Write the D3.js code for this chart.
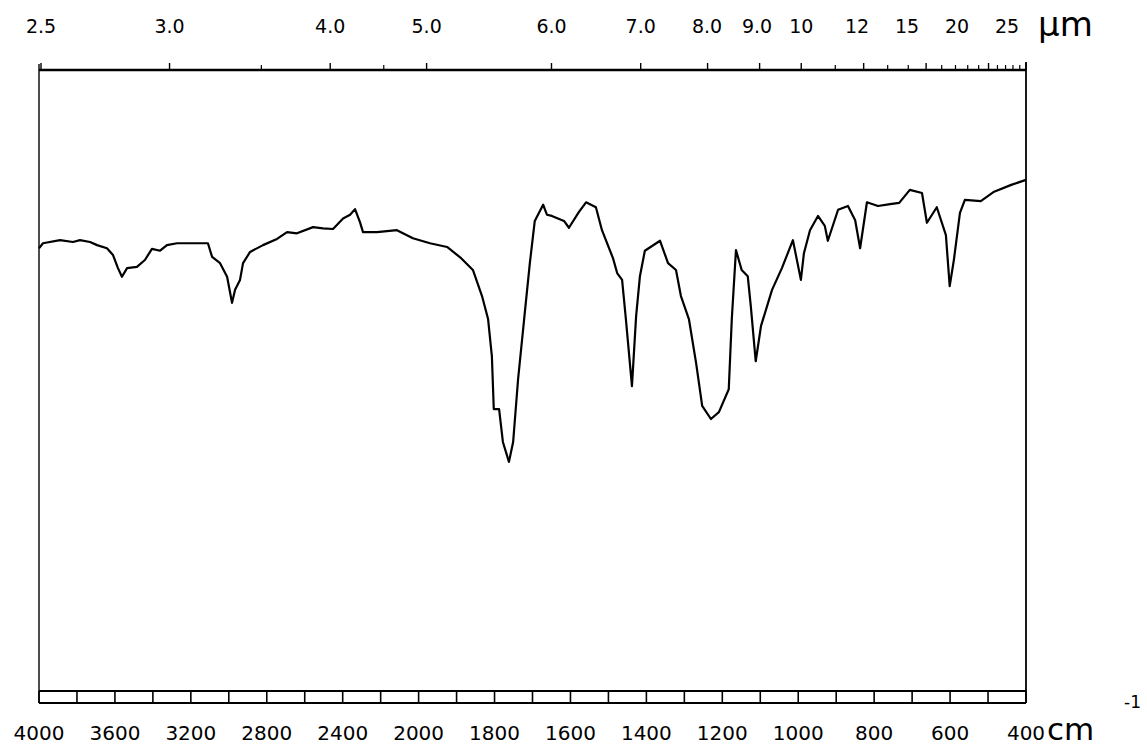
<!DOCTYPE html>
<meta charset="utf-8">
<style>
body { margin: 0; background: #fff; }
svg text { font-family: "DejaVu Sans", sans-serif; fill: #000; }
.spec { fill: none; stroke: #000; stroke-width: 2.2; stroke-linejoin: round; }
.frame { stroke: #000; fill: none; }
</style>
<body>
<script src="https://d3js.org/d3.v7.min.js"></script>
<script>

// spectrum (cm-1, %T)
var wavenumber = [4000, 3979, 3889, 3821, 3784, 3731, 3694, 3642, 3610, 3584, 3563, 3536, 3484, 3442, 3405, 3362, 3326, 3273, 3220, 3168, 3110,
  3088, 3046, 3009, 2994, 2983, 2967, 2941, 2925, 2888, 2820, 2746, 2693, 2641, 2556, 2504, 2451, 2398, 2361, 2335, 2309, 2293, 2219, 2114,
  2030, 1970, 1925, 1888, 1857, 1833, 1817, 1807, 1802, 1788, 1778, 1762, 1751, 1738, 1722, 1707, 1694, 1672, 1662, 1649, 1617, 1604, 1578,
  1559, 1533, 1517, 1488, 1477, 1464, 1454, 1438, 1427, 1417, 1404, 1364, 1343, 1322, 1309, 1288, 1269, 1253, 1230, 1209, 1183, 1175, 1164,
  1149, 1133, 1125, 1112, 1098, 1069, 1043, 1014, 993, 985, 969, 948, 930, 922, 895, 869, 850, 837, 819, 790, 758, 734, 706, 674, 661, 635,
  611, 601, 590, 574, 561, 519, 484, 439, 400];
var transmittance = [71.3, 72.1, 72.6, 72.3, 72.6, 72.3, 71.8, 71.3, 70.2, 68.1, 66.7, 68.1, 68.3, 69.4, 71.2, 70.9, 71.8, 72.1, 72.1, 72.1, 72.1,
  69.9, 68.9, 66.7, 64.3, 62.5, 64.6, 66.2, 68.9, 70.7, 71.8, 72.8, 73.9, 73.7, 74.7, 74.5, 74.4, 76.1, 76.7, 77.6, 75.5, 73.9, 73.9, 74.2,
  72.9, 72.1, 71.5, 69.7, 67.8, 63.6, 59.9, 53.9, 45.4, 45.4, 40.1, 36.9, 40.1, 50.2, 59.9, 68.9, 75.7, 78.3, 76.7, 76.5, 75.7, 74.6, 77.1,
  78.7, 77.9, 74.2, 69.7, 67.3, 66.2, 59.9, 49.1, 60.4, 66.8, 70.9, 72.5, 68.9, 67.8, 63.6, 59.9, 52.8, 45.9, 43.8, 44.9, 48.6, 59.9, 71.0,
  67.8, 66.8, 62.0, 53.1, 58.8, 64.6, 68.1, 72.6, 66.2, 70.5, 74.2, 76.5, 74.9, 72.5, 77.5, 78.1, 75.8, 71.3, 78.7, 78.1, 78.4, 78.6, 80.7, 80.2, 75.4, 77.9,
  73.4, 65.2, 69.4, 77.0, 79.1, 78.9, 80.4, 81.5, 82.3];

// axis labels
var cmLabels = [4000, 3600, 3200, 2800, 2400, 2000, 1800, 1600, 1400, 1200, 1000, 800, 600, 400];
var umLabels = ["2.5", "3.0", "4.0", "5.0", "6.0", "7.0", "8.0", "9.0", "10", "12", "15", "20", "25"];
var umMinor = [3.5, 4.5, 11, 13, 14, 16, 17, 18, 19, 21, 22, 23, 24];

(function() {

var width = 1147, height = 746;
var x0 = 39, x1 = 1026, yTop = 70, yBot = 691, yStrip = 703;
var xMid = x0 + (x1 - x0) * 10 / 26;

var svg = d3.select("body").append("svg")
    .attr("width", width)
    .attr("height", height);

// grating change at 2000 cm-1: scale doubles
var x = d3.scaleLinear()
    .domain([4000, 2000, 400])
    .range([x0, xMid, x1]);

// the printed micrometre scale sits a little off the wavenumber one
var xTop = d3.scaleLinear()
    .domain([4000, 2000, 400])
    .range([x0 + 2, xMid + 8, x1]);

var y = d3.scaleLinear()
    .domain([0, 100])
    .range([yBot, yTop]);

function hline(xa, xb, yy, sw) {
  svg.append("line").attr("class", "frame")
      .attr("x1", xa).attr("x2", xb).attr("y1", yy).attr("y2", yy)
      .attr("stroke-width", sw);
}
function vline(xx, ya, yb, sw) {
  svg.append("line").attr("class", "frame")
      .attr("x1", xx).attr("x2", xx).attr("y1", ya).attr("y2", yb)
      .attr("stroke-width", sw);
}

// frame
hline(x0, x1, yTop, 2.4);
vline(x0, yTop - 6, yStrip, 1.4);
vline(x1, yTop - 8, yStrip, 1.8);

// bottom strip with boxes
hline(x0, x1, yBot, 1.8);
hline(x0, x1, yStrip, 1.8);

var boxes = d3.range(4000, 2000, -200).concat(d3.range(2000, 399, -100));
svg.selectAll(".box").data(boxes).enter().append("line")
    .attr("class", "frame")
    .attr("x1", function(d) { return x(d); })
    .attr("x2", function(d) { return x(d); })
    .attr("y1", yBot).attr("y2", yStrip)
    .attr("stroke-width", 1.6);

svg.selectAll(".cm").data(cmLabels).enter().append("text")
    .attr("x", function(d) { return x(d); })
    .attr("y", 740)
    .attr("text-anchor", "middle")
    .style("font-size", "20px")
    .text(function(d) { return d; });

svg.append("text").attr("x", 1047).attr("y", 740)
    .style("font-size", "31px").text("cm");
svg.append("text").attr("x", 1124).attr("y", 708)
    .style("font-size", "17px").text("-1");

// micrometre scale on top
svg.selectAll(".umt").data(umLabels).enter().append("line")
    .attr("class", "frame")
    .attr("x1", function(d) { return xTop(1e4 / +d); })
    .attr("x2", function(d) { return xTop(1e4 / +d); })
    .attr("y1", yTop - 7).attr("y2", yTop)
    .attr("stroke-width", 1.4);
svg.selectAll(".umm").data(umMinor).enter().append("line")
    .attr("class", "frame")
    .attr("x1", function(d) { return xTop(1e4 / d); })
    .attr("x2", function(d) { return xTop(1e4 / d); })
    .attr("y1", yTop - 5).attr("y2", yTop)
    .attr("stroke-width", 1.2);

// labels crowd toward the long-wave end, so keep them ~50px apart there
var n = umLabels.length;
svg.selectAll(".um").data(umLabels).enter().append("text")
    .attr("x", function(d, i) { return Math.min(xTop(1e4 / +d), x1 - 19 - (n - 1 - i) * 50); })
    .attr("y", 33)
    .attr("text-anchor", "middle")
    .style("font-size", "19px")
    .text(function(d) { return d; });

svg.append("text").attr("x", 1038).attr("y", 36)
    .style("font-size", "34px").text("\u00b5m");

// the trace
var pts = wavenumber.map(function(w, i) { return [w, transmittance[i]]; });
var line = d3.line()
    .x(function(d) { return x(d[0]); })
    .y(function(d) { return y(d[1]); });

svg.append("path")
    .datum(pts)
    .attr("class", "spec")
    .attr("d", line);

})();
</script>
